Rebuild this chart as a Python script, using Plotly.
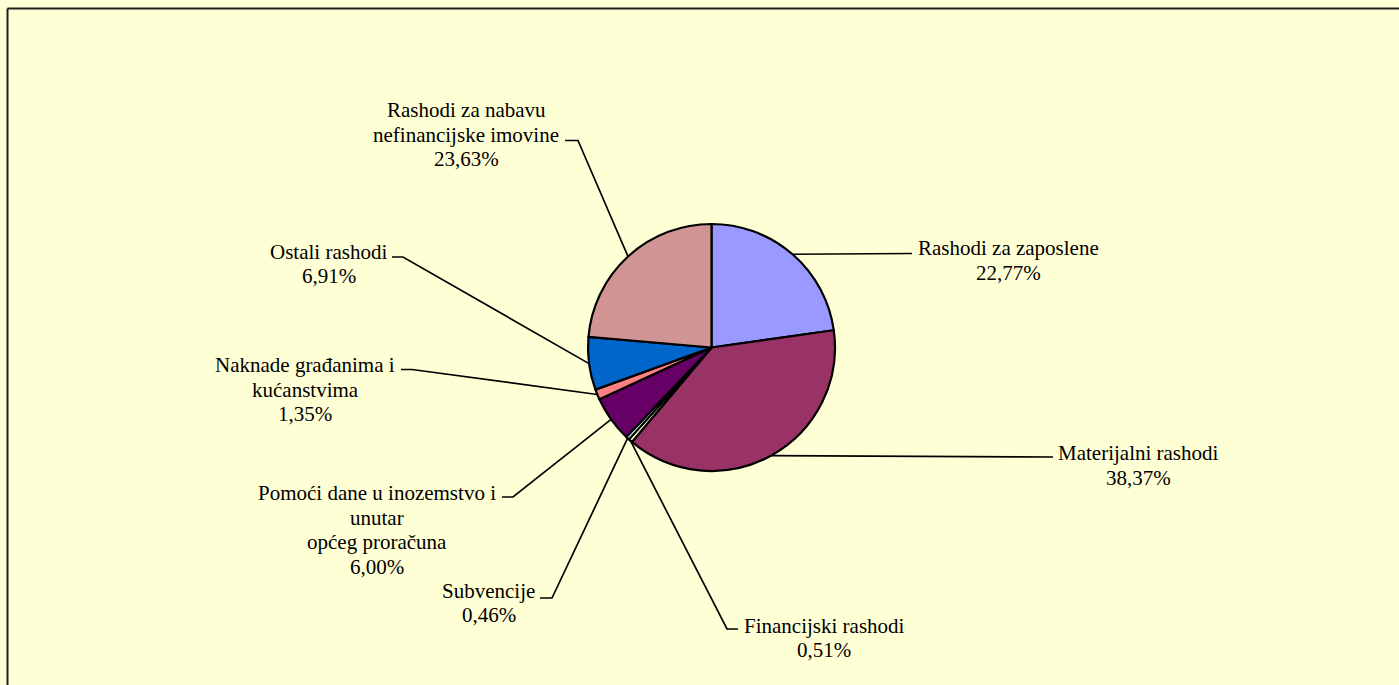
import math
import plotly.graph_objects as go

# ---- data ----
categories = [
    "Rashodi za zaposlene",
    "Materijalni rashodi",
    "Financijski rashodi",
    "Subvencije",
    "Pomoći dane u inozemstvo i unutar općeg proračuna",
    "Naknade građanima i kućanstvima",
    "Ostali rashodi",
    "Rashodi za nabavu nefinancijske imovine",
]
label_lines = [
    ["Rashodi za zaposlene"],
    ["Materijalni rashodi"],
    ["Financijski rashodi"],
    ["Subvencije"],
    ["Pomoći dane u inozemstvo i", "unutar", "općeg proračuna"],
    ["Naknade građanima i", "kućanstvima"],
    ["Ostali rashodi"],
    ["Rashodi za nabavu", "nefinancijske imovine"],
]
values = [22.77, 38.37, 0.51, 0.46, 6.00, 1.35, 6.91, 23.63]
colors = ["#9999FF", "#993366", "#FFFFCC", "#CCFFFF", "#660066", "#FF8080", "#0066CC", "#D09494"]

# ---- layout constants (pixels) ----
W, H = 1399, 685
CX, CY, R = 711.5, 347.5, 123.5
# label block: center x, first line y
label_pos = [(1008, 248), (1138.5, 453.5), (824, 625.5), (488.5, 590.5),
             (376.5, 493), (305, 365), (328.5, 251.5), (466, 110)]
# leader polyline points after the pie point (elbow, end)
leader_pts = [
    [(912, 253.5)],
    [(1053, 457)],
    [(727, 629), (738, 629)],
    [(552, 598), (540, 598)],
    [(513, 497), (502, 497)],
    [(412, 369.5), (401, 369.5)],
    [(403, 257), (392, 257)],
    [(578, 140.5), (565, 140.5)],
]
LINE_H = 24.5
BG = "#FFFFD6"
FONT = "Liberation Serif"


def px(x):
    return x / W


def py(y):
    return 1 - y / H


fig = go.Figure()
fig.add_trace(go.Pie(
    labels=categories,
    values=values,
    sort=False,
    direction="clockwise",
    rotation=0,
    textinfo="none",
    hoverinfo="label+percent",
    marker=dict(colors=colors, line=dict(color="#000000", width=2.2)),
    domain=dict(x=[px(CX - R), px(CX + R)], y=[py(CY + R), py(CY - R)]),
    showlegend=False,
))

shapes = []
annotations = []
total = sum(values)
cum = 0.0
for i, v in enumerate(values):
    mid = (cum + v / 2) / total
    cum += v
    ang = 2 * math.pi * mid
    sx = CX + R * math.sin(ang)
    sy = CY - R * math.cos(ang)
    pts = [(sx, sy)] + leader_pts[i]
    path = "M " + " L ".join(f"{px(x):.5f},{py(y):.5f}" for x, y in pts)
    shapes.append(dict(type="path", xref="paper", yref="paper", path=path,
                       line=dict(color="#000000", width=1.7)))
    pct = f"{v:.2f}".replace(".", ",") + "%"
    lines = label_lines[i] + [pct]
    lx, ly = label_pos[i]
    for k, t in enumerate(lines):
        annotations.append(dict(
            x=px(lx), y=py(ly + k * LINE_H), xref="paper", yref="paper",
            text=t, showarrow=False, xanchor="center", yanchor="middle",
            font=dict(family=FONT, size=21, color="#000000"),
        ))

# chart-area border (top and left visible)
shapes.append(dict(type="line", xref="paper", yref="paper",
                   x0=px(7.5), y0=py(8.5), x1=1.01, y1=py(8.5),
                   line=dict(color="#1E1E1E", width=2)))
shapes.append(dict(type="line", xref="paper", yref="paper",
                   x0=px(7.5), y0=py(8.5), x1=px(7.5), y1=-0.01,
                   line=dict(color="#1E1E1E", width=2)))

fig.update_layout(
    width=W, height=H,
    margin=dict(l=0, r=0, t=0, b=0),
    paper_bgcolor=BG, plot_bgcolor=BG,
    shapes=shapes,
    annotations=annotations,
    font=dict(family=FONT),
)

fig.write_html(
    "out.html",
    config={"displayModeBar": False},
    post_script=("document.body.style.margin='0';"
                 "document.body.style.overflow='hidden';"
                 "document.body.style.background='" + BG + "';"),
)
